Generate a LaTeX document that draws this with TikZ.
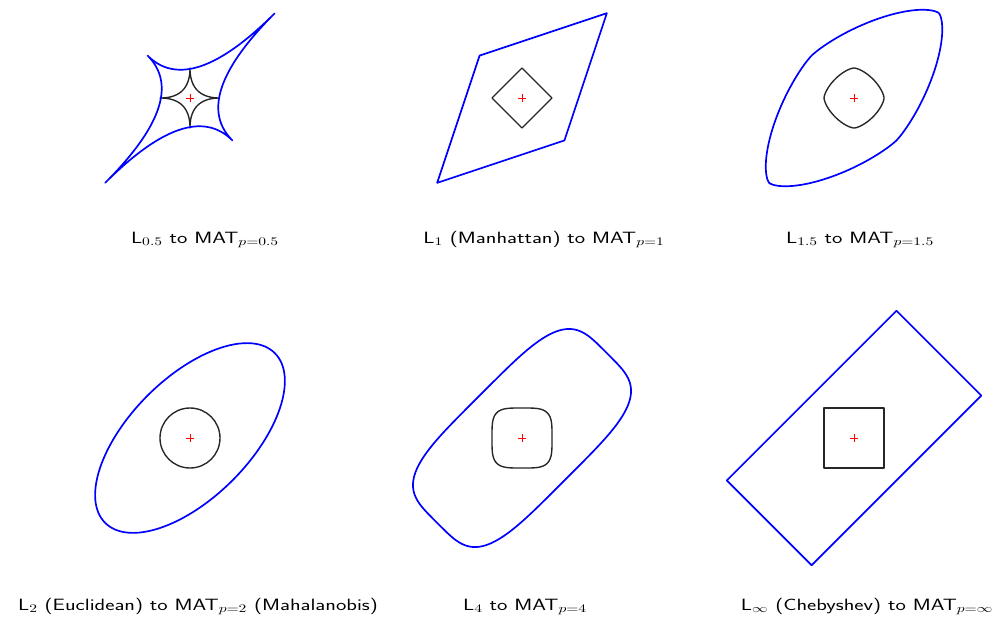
\documentclass[tikz,border=0pt]{standalone}
\usepackage{amsmath}
\usepackage{graphicx}

% unit L_p ball, traced as (sgn cos t |cos t|^{2/p}, sgn sin t |sin t|^{2/p})
\newcommand{\lpx}[1]{sign(cos(\x))*pow(abs(cos(\x)),2/#1)}
\newcommand{\lpy}[1]{sign(sin(\x))*pow(abs(sin(\x)),2/#1)}
% captions are set wide
\newcommand{\widecap}[1]{\scalebox{1.345}[1]{#1}}

\tikzset{
  unitball/.style={draw=black!85, line width=1.3pt, line join=round},
  matball/.style={draw=blue, line width=1.6pt, line join=round,
    cm={2.828,2.828,-1.414,1.414,(0,0)}},
  lpsamples/.style={domain=0.5:360.5, samples=361},
  centremark/.style={draw=red, line width=0.7pt},
  lbl/.style={font=\sffamily\fontsize{15.5}{18}\selectfont, anchor=base}
}

\begin{document}
\begin{tikzpicture}[x=1cm, y=1cm]
  % whole figure: 1000 x 623 px, one unit = 30 px = radius of a unit ball
  \useasboundingbox (0,0) rectangle (33.333,-20.767);

  % centres of the six panels
  \coordinate (c1) at (6.333,-3.267);
  \coordinate (c2) at (17.4,-3.267);
  \coordinate (c3) at (28.467,-3.267);
  \coordinate (c4) at (6.333,-14.6);
  \coordinate (c5) at (17.4,-14.6);
  \coordinate (c6) at (28.467,-14.6);

  % p = 0.5
  \begin{scope}[shift={(c1)}]
    \draw[unitball] plot[lpsamples] ({\lpx{0.5}}, {\lpy{0.5}});
    \draw[matball] plot[lpsamples] ({\lpx{0.5}}, {\lpy{0.5}});
    \draw[centremark] (-0.14,0) -- (0.14,0) (0,-0.14) -- (0,0.14);
  \end{scope}

  % p = 1
  \begin{scope}[shift={(c2)}]
    \draw[unitball] (1,0) -- (0,1) -- (-1,0) -- (0,-1) -- cycle;
    \draw[matball] (1,0) -- (0,1) -- (-1,0) -- (0,-1) -- cycle;
    \draw[centremark] (-0.14,0) -- (0.14,0) (0,-0.14) -- (0,0.14);
  \end{scope}

  % p = 1.5
  \begin{scope}[shift={(c3)}]
    \draw[unitball] plot[lpsamples] ({\lpx{1.5}}, {\lpy{1.5}});
    \draw[matball] plot[lpsamples] ({\lpx{1.5}}, {\lpy{1.5}});
    \draw[centremark] (-0.14,0) -- (0.14,0) (0,-0.14) -- (0,0.14);
  \end{scope}

  % p = 2
  \begin{scope}[shift={(c4)}]
    \draw[unitball] (0,0) circle (1);
    \draw[matball] (0,0) circle (1);
    \draw[centremark] (-0.14,0) -- (0.14,0) (0,-0.14) -- (0,0.14);
  \end{scope}

  % p = 4
  \begin{scope}[shift={(c5)}]
    \draw[unitball] plot[lpsamples] ({\lpx{4}}, {\lpy{4}});
    \draw[matball] plot[lpsamples] ({\lpx{4}}, {\lpy{4}});
    \draw[centremark] (-0.14,0) -- (0.14,0) (0,-0.14) -- (0,0.14);
  \end{scope}

  % p = infinity
  \begin{scope}[shift={(c6)}]
    \draw[unitball] (-1,-1) rectangle (1,1);
    \draw[matball] (1,1) -- (-1,1) -- (-1,-1) -- (1,-1) -- cycle;
    \draw[centremark] (-0.14,0) -- (0.14,0) (0,-0.14) -- (0,0.14);
  \end{scope}

  % captions
  \node[lbl] (t1) at (6.833,-8.1) {\widecap{L$_{0.5}$ to MAT$_{p=0.5}$}};
  \node[lbl] (t2) at (18.133,-8.1) {\widecap{L$_{1}$ (Manhattan) to MAT$_{p=1}$}};
  \node[lbl] (t3) at (28.667,-8.1) {\widecap{L$_{1.5}$ to MAT$_{p=1.5}$}};
  \node[lbl] (t4) at (6.6,-20.333) {\widecap{L$_{2}$ (Euclidean) to MAT$_{p=2}$ (Mahalanobis)}};
  \node[lbl] (t5) at (17.5,-20.333) {\widecap{L$_{4}$ to MAT$_{p=4}$}};
  \node[lbl] (t6) at (28.9,-20.333) {\widecap{L$_{\infty}$ (Chebyshev) to MAT$_{p=\infty}$}};
\end{tikzpicture}
\end{document}
